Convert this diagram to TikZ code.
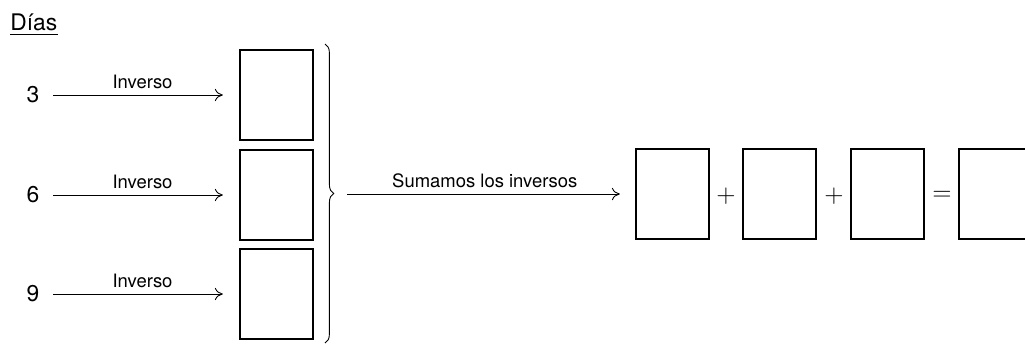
\documentclass[tikz,border=0pt]{standalone}
\usepackage{fontspec}
\setmainfont{TeX Gyre Heros}
\usetikzlibrary{decorations.pathreplacing,arrows.meta}
\begin{document}
\begin{tikzpicture}[x=0.02cm,y=-0.02cm,
 caja/.style={draw,line width=0.6pt,minimum width=1.46cm,minimum height=1.8cm,inner sep=0pt},
 flecha/.style={-{To[length=4.5pt,width=7pt]},line width=0.5pt},
 etiq/.style={font=\fontsize{10.5}{12}\selectfont},
 num/.style={font=\fontsize{13}{15}\selectfont},
 oper/.style={font=\fontsize{14}{16}\selectfont}]
\useasboundingbox (0,0) rectangle (1025,346);
 \node[num,inner sep=0pt,anchor=base west] (dias) at (10,30) {Días};
 \draw[line width=0.5pt] ([yshift=-2.8pt]dias.base west) -- ([yshift=-2.8pt]dias.base east);
 % columna de la izquierda
 \foreach \n/\y in {3/95,6/195,9/294} {
  \node[num] (n\n) at (33,\y) {\n};
  \node[caja] (c\n) at (276.5,\y) {};
  \draw[flecha,shorten <=4.5pt,shorten >=9.5pt] (n\n)
   -- node[midway,above,etiq] (inv\n) {Inverso} (c\n);
 }
 \draw[line width=0.5pt,decorate,decoration={brace,amplitude=5pt}]
  (325,44) coordinate (llavea) -- (325,343) coordinate (llaveb);
 \coordinate (punta) at (334,194);
 % fila de la derecha
 \foreach \i/\x in {1/672.5,2/779.5,3/887.5,4/995.5}
  \node[caja] (r\i) at (\x,194) {};
 \draw[flecha,shorten <=7.4pt,shorten >=8.9pt] (punta)
  -- node[midway,above,etiq] (suma) {Sumamos los inversos} (r1);
 \node[oper] (mas1) at (726,196) {$+$};
 \node[oper] (mas2) at (834,196) {$+$};
 \node[oper] (igual) at (942,196) {$=$};
\end{tikzpicture}
\end{document}
